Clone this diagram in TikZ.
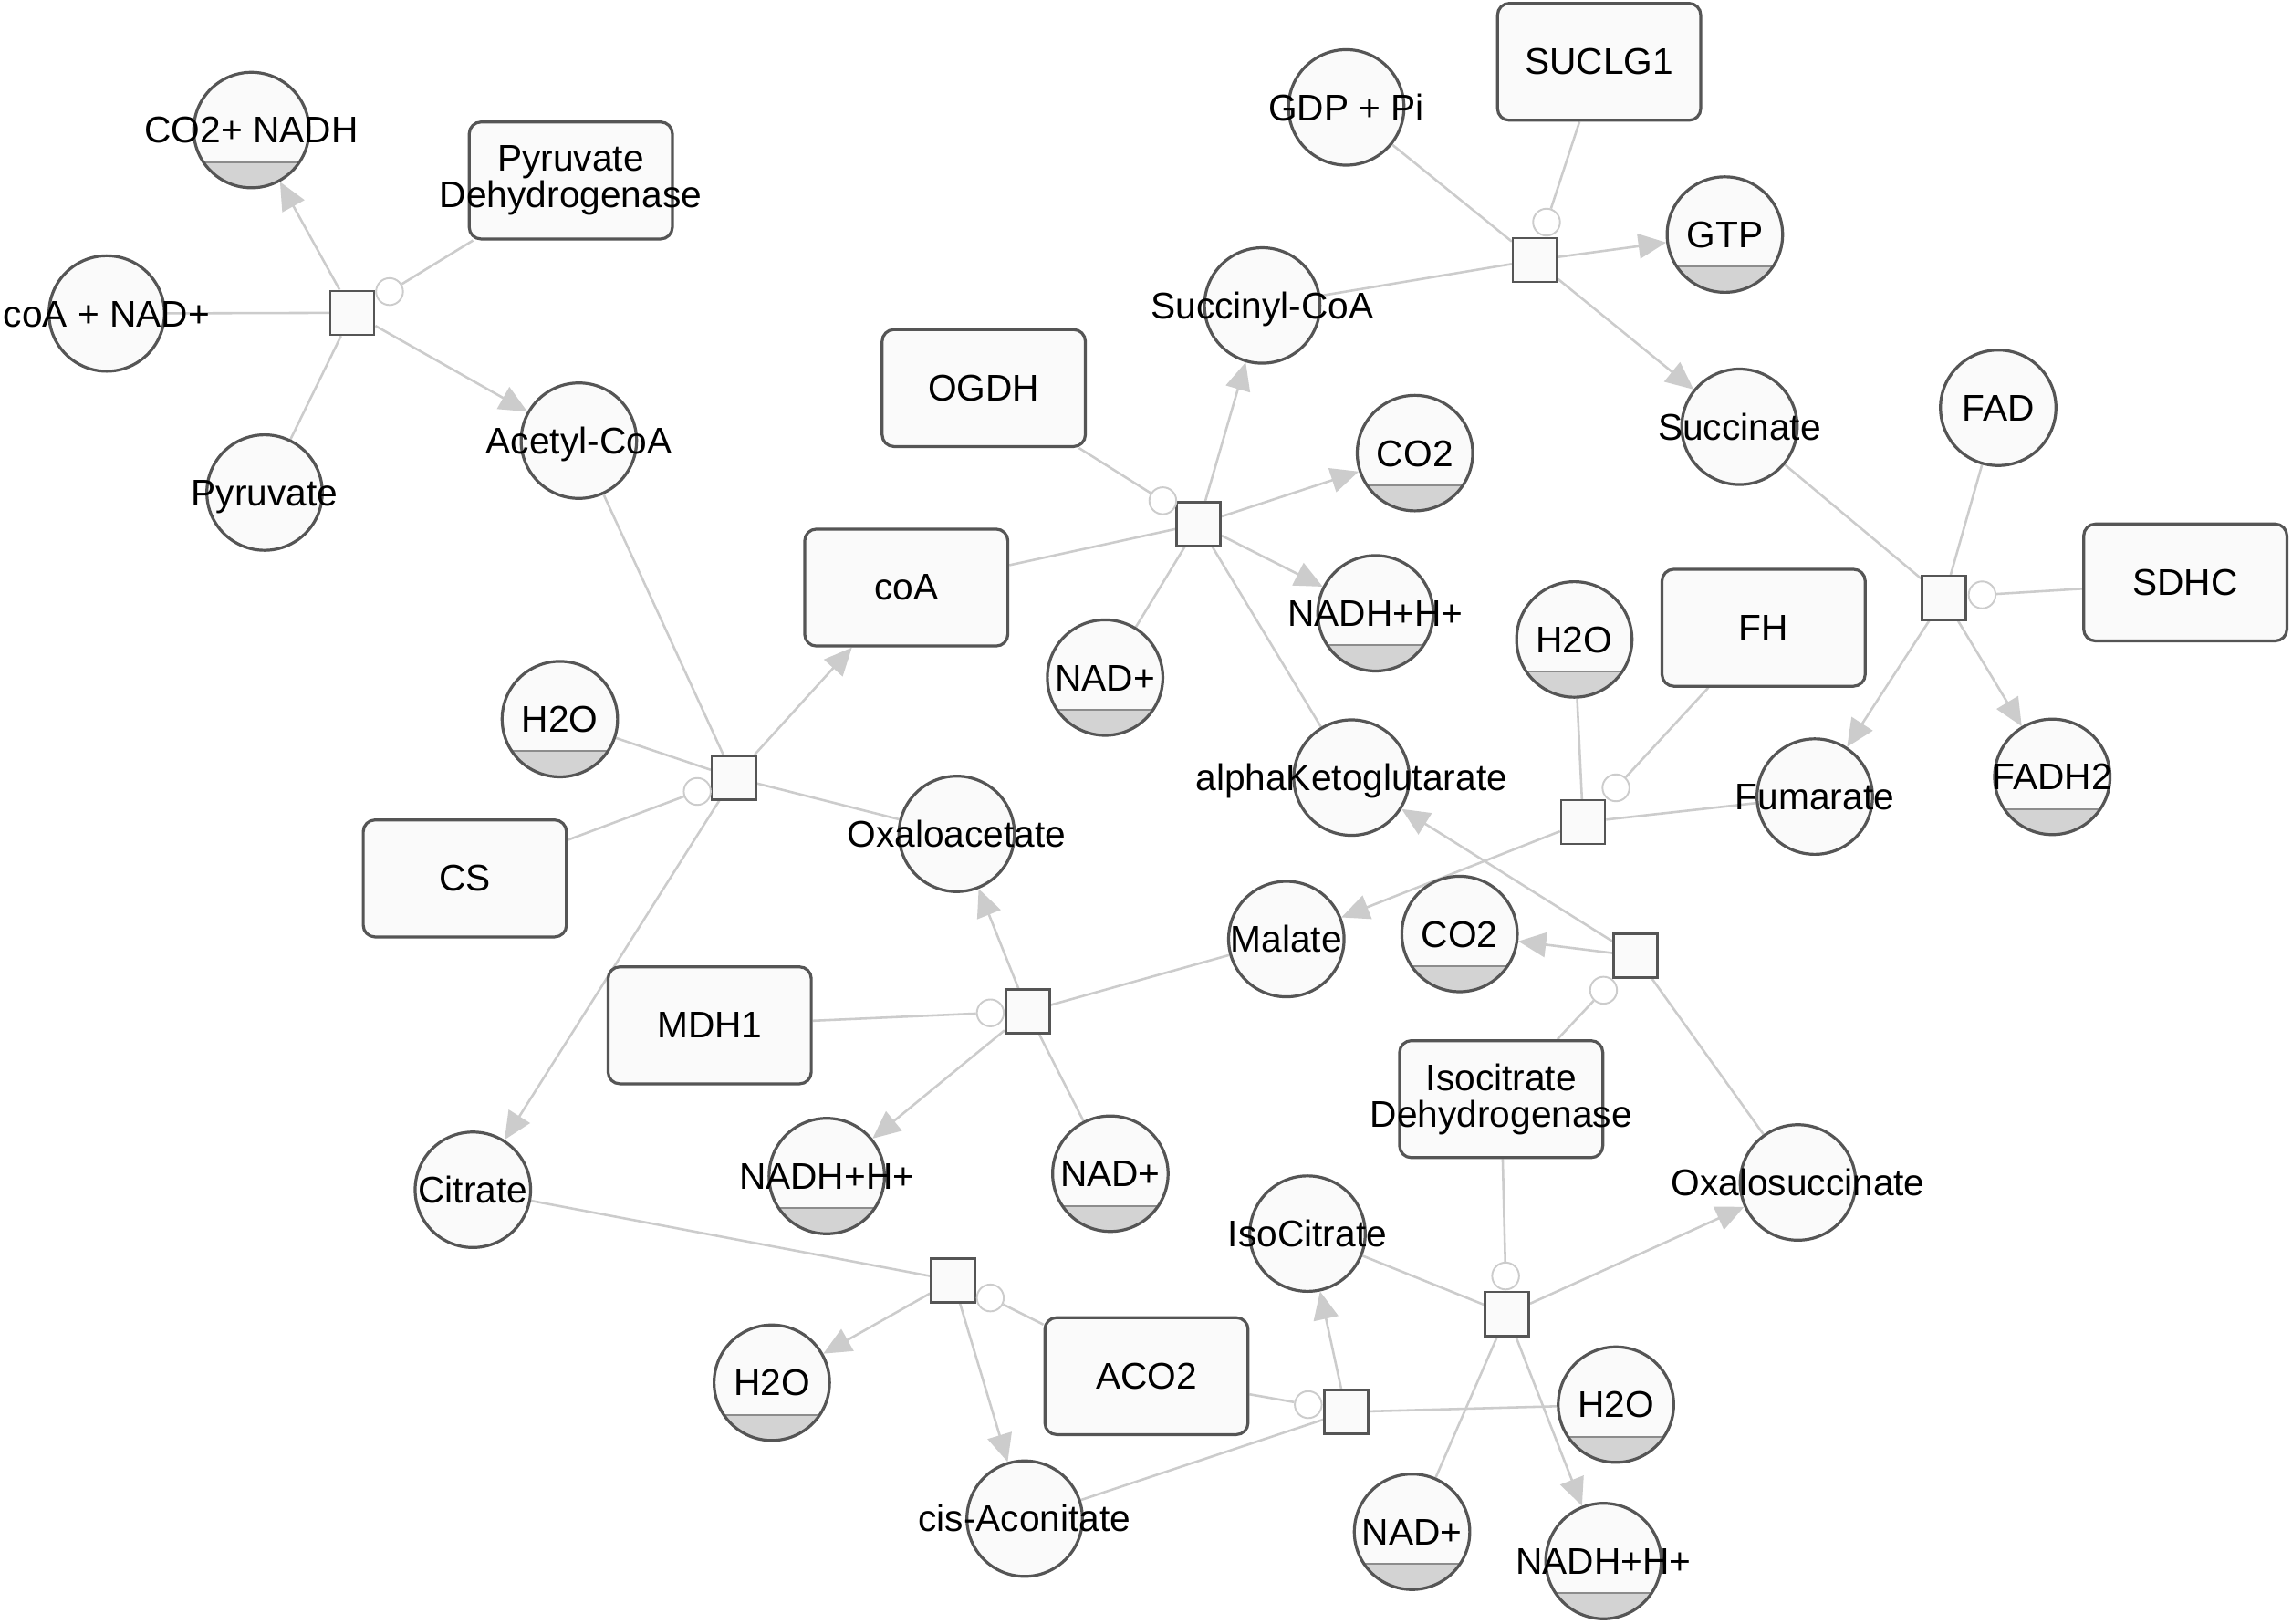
\documentclass[tikz,border=0pt]{standalone}
\usepackage{fontspec}
\setmainfont{Liberation Sans}
\usepackage{tikz}
\usetikzlibrary{arrows.meta,backgrounds}
\definecolor{edgegray}{HTML}{CCCCCC}
\definecolor{bordergray}{HTML}{555555}
\definecolor{nodefill}{HTML}{FAFAFA}
\definecolor{shadegray}{HTML}{D3D3D3}
\newcommand{\lbl}[1]{\makebox[0pt]{#1}}

\begin{document}
\begin{tikzpicture}[x=0.5pt,y=-0.5pt,
  font=\fontsize{12.7}{12.5}\selectfont,
  met/.style={circle,draw=bordergray,fill=nodefill,line width=1pt,minimum size=39.5pt,inner sep=0pt,text height=9pt,text depth=0pt},
  cof/.style={met,path picture={
      \fill[shadegray] (path picture bounding box.south west) rectangle ([yshift=-11pt]path picture bounding box.east);
      \draw[black!45,line width=0.6pt] ([yshift=-11pt]path picture bounding box.west) -- ([yshift=-11pt]path picture bounding box.east);}},
  enz/.style={rectangle,rounded corners=4pt,draw=bordergray,fill=nodefill,line width=1pt,minimum width=69.5pt,minimum height=40pt,inner sep=0pt,align=center},
  proc/.style={rectangle,draw=bordergray,fill=nodefill,line width=0.8pt,minimum size=15pt,inner sep=0pt},
  modc/.style={circle,draw=edgegray,fill=white,line width=0.6pt,minimum size=9.2pt,inner sep=0pt},
  link/.style={draw=edgegray,line width=0.8pt},
  flow/.style={link,-{Triangle[length=9.5pt,width=8.5pt]}}]
  \useasboundingbox (0,0) rectangle (1568,1111);

  \node[cof] (co2nadh) at (172,89) {\lbl{CO2+ NADH}};
  \node[met] (coanad) at (73,214.5) {\lbl{coA + NAD+}};
  \node[met] (pyr) at (181,337) {\lbl{Pyruvate}};
  \node[met] (accoa) at (396,301.5) {\lbl{Acetyl-CoA}};
  \node[cof] (h2oA) at (383,492) {\lbl{H2O}};
  \node[met] (oaa) at (654.5,570.5) {\lbl{Oxaloacetate}};
  \node[met] (sucoa) at (863.5,209) {\lbl{Succinyl-CoA}};
  \node[met] (gdp) at (921,73.5) {\lbl{GDP + Pi}};
  \node[cof] (gtp) at (1180,160.5) {\lbl{GTP}};
  \node[met] (suc) at (1190,292) {\lbl{Succinate}};
  \node[met] (fad) at (1367,279) {\lbl{FAD}};
  \node[cof] (co2A) at (968,310) {\lbl{CO2}};
  \node[cof] (nadhA) at (941,419.6) {\lbl{NADH+H+}};
  \node[cof] (nadA) at (756,463.6) {\lbl{NAD+}};
  \node[cof] (h2oB) at (1077,437.5) {\lbl{H2O}};
  \node[met] (akg) at (924.6,532) {\lbl{alphaKetoglutarate}};
  \node[met] (fum) at (1241.5,545) {\lbl{Fumarate}};
  \node[cof] (fadh) at (1404,531.5) {\lbl{FADH2}};
  \node[met] (mal) at (880,642.5) {\lbl{Malate}};
  \node[cof] (co2B) at (998.5,639) {\lbl{CO2}};
  \node[met] (cit) at (323.5,814) {\lbl{Citrate}};
  \node[cof] (nadhB) at (565.6,804.6) {\lbl{NADH+H+}};
  \node[cof] (nadB) at (759.6,803) {\lbl{NAD+}};
  \node[met] (osuc) at (1230,809) {\lbl{Oxalosuccinate}};
  \node[met] (icit) at (894.5,844) {\lbl{IsoCitrate}};
  \node[cof] (h2oC) at (528,946) {\lbl{H2O}};
  \node[cof] (h2oD) at (1105.5,961) {\lbl{H2O}};
  \node[met] (cisaco) at (701,1039) {\lbl{cis-Aconitate}};
  \node[cof] (nadC) at (966,1048) {\lbl{NAD+}};
  \node[cof] (nadhC) at (1097,1068) {\lbl{NADH+H+}};

  \node[enz] (pdh) at (390.5,123.5) {\lbl{Pyruvate}\\\lbl{Dehydrogenase}};
  \node[enz] (suclg) at (1094,42.3) {SUCLG1};
  \node[enz] (ogdh) at (673,265.5) {OGDH};
  \node[enz] (coa) at (620,402) {coA};
  \node[enz] (cs) at (318,601) {CS};
  \node[enz] (mdh) at (485.5,701.5) {MDH1};
  \node[enz] (aco) at (784.3,941.5) {ACO2};
  \node[enz] (idh) at (1027,752) {\lbl{Isocitrate}\\\lbl{Dehydrogenase}};
  \node[enz] (fh) at (1206.5,429.5) {FH};
  \node[enz] (sdhc) at (1495,398.5) {SDHC};

  \node[proc] (pdhR) at (241,214) {};
  \node[modc] (pdhM) at (266.5,199.5) {};
  \node[proc] (csR) at (502,532) {};
  \node[modc] (csM) at (477,541.5) {};
  \node[proc] (ogdhR) at (820,358.5) {};
  \node[modc] (ogdhM) at (795.5,342.6) {};
  \node[proc] (suclgR) at (1050,178) {};
  \node[modc] (suclgM) at (1058,152) {};
  \node[proc] (sdhcR) at (1330,409) {};
  \node[modc] (sdhcM) at (1356,407) {};
  \node[proc] (fhR) at (1083,562.5) {};
  \node[modc] (fhM) at (1105.5,539) {};
  \node[proc] (mdhR) at (703,692) {};
  \node[modc] (mdhM) at (677.5,693) {};
  \node[proc] (idhR) at (1119,654) {};
  \node[modc] (idhM) at (1097,677.5) {};
  \node[proc] (acoR) at (652,876) {};
  \node[modc] (acoM) at (677.5,888) {};
  \node[proc] (acoRb) at (921,966) {};
  \node[modc] (acoMb) at (895,961) {};
  \node[proc] (idhRb) at (1031,899) {};
  \node[modc] (idhMb) at (1030,873) {};

  \begin{scope}[on background layer]
    \fill[white] (0,0) rectangle (1568,1111);
    \path (coanad) edge[link] (pdhR)
          (pyr) edge[link] (pdhR)
          (pdh) edge[link] (pdhM)
          (pdhR) edge[flow] (co2nadh)
                 edge[flow] (accoa);
    \path (accoa) edge[link] (csR)
          (h2oA) edge[link] (csR)
          (oaa) edge[link] (csR)
          (cs) edge[link] (csM)
          (csR) edge[flow] (coa)
                edge[flow] (cit);
    \path (akg) edge[link] (ogdhR)
          (coa) edge[link] (ogdhR)
          (nadA) edge[link] (ogdhR)
          (ogdh) edge[link] (ogdhM)
          (ogdhR) edge[flow] (sucoa)
                  edge[flow] (co2A)
                  edge[flow] (nadhA);
    \path (gdp) edge[link] (suclgR)
          (sucoa) edge[link] (suclgR)
          (suclg) edge[link] (suclgM)
          (suclgR) edge[flow] (gtp)
                   edge[flow] (suc);
    \path (suc) edge[link] (sdhcR)
          (fad) edge[link] (sdhcR)
          (sdhc) edge[link] (sdhcM)
          (sdhcR) edge[flow] (fum)
                  edge[flow] (fadh);
    \path (fum) edge[link] (fhR)
          (h2oB) edge[link] (fhR)
          (fh) edge[link] (fhM)
          (fhR) edge[flow] (mal);
    \path (mal) edge[link] (mdhR)
          (nadB) edge[link] (mdhR)
          (mdh) edge[link] (mdhM)
          (mdhR) edge[flow] (oaa)
                 edge[flow] (nadhB);
    \path (osuc) edge[link] (idhR)
          (idh) edge[link] (idhM)
          (idhR) edge[flow] (akg)
                 edge[flow] (co2B);
    \path (cit) edge[link] (acoR)
          (aco) edge[link] (acoM)
          (acoR) edge[flow] (h2oC)
                 edge[flow] (cisaco);
    \path (cisaco) edge[link] (acoRb)
          (h2oD) edge[link] (acoRb)
          (aco) edge[link] (acoMb)
          (acoRb) edge[flow] (icit);
    \path (icit) edge[link] (idhRb)
          (nadC) edge[link] (idhRb)
          (idh) edge[link] (idhMb)
          (idhRb) edge[flow] (osuc)
                  edge[flow] (nadhC);
  \end{scope}
\end{tikzpicture}
\end{document}
